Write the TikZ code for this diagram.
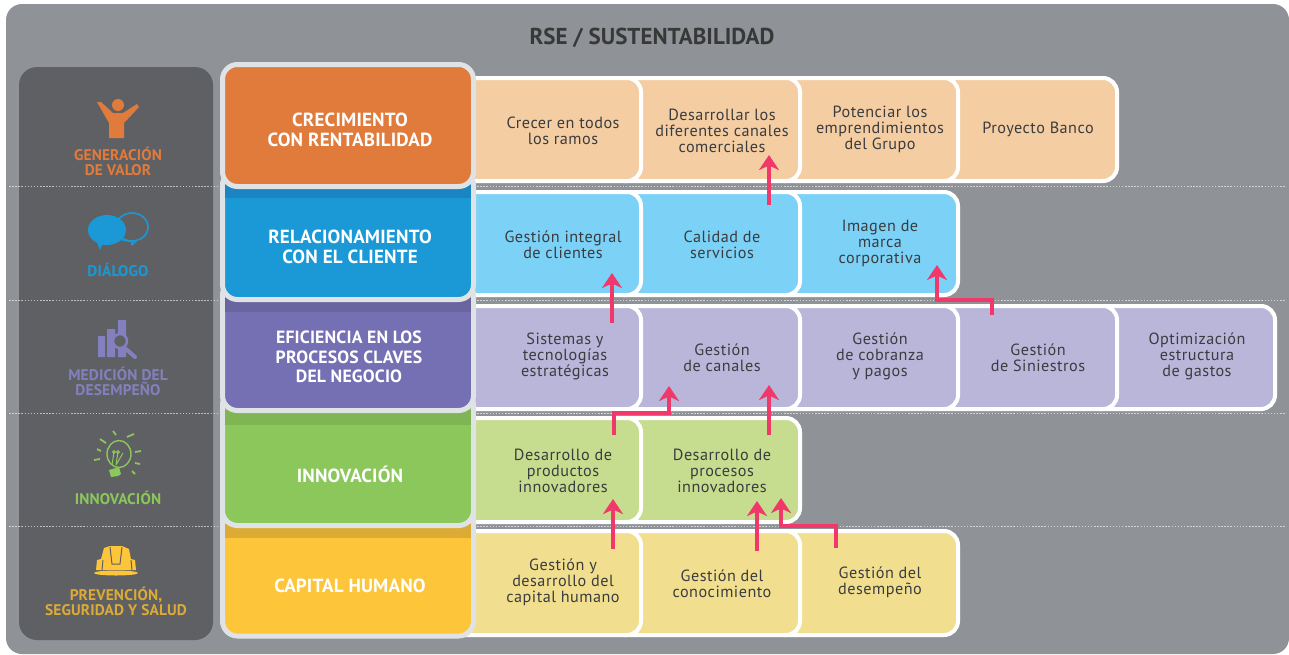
\documentclass[tikz,border=0pt]{standalone}
\usepackage{fontspec}
\setmainfont{PT Sans}
\newfontfamily\bodyf[LetterSpace=3]{PT Sans}
\newfontfamily\headf[LetterSpace=1]{PT Sans}
\usetikzlibrary{arrows.meta}
\definecolor{bgray}{HTML}{8F9397}
\definecolor{panel}{HTML}{5F6063}
\definecolor{rim}{HTML}{DFE3E5}
\definecolor{txt}{HTML}{3A3C3F}
\definecolor{pink}{HTML}{F0386B}
\definecolor{cOr}{HTML}{E07B3C}\definecolor{cBl}{HTML}{1A99D6}\definecolor{cPu}{HTML}{7570B3}
\definecolor{cGr}{HTML}{8BC75A}\definecolor{cYe}{HTML}{FDC53A}
\definecolor{dBl}{HTML}{1A85C2}\definecolor{dPu}{HTML}{6A659F}\definecolor{dGr}{HTML}{7FB552}\definecolor{dYe}{HTML}{DCAB36}
\definecolor{lOr}{HTML}{F4CDA2}\definecolor{lBl}{HTML}{7CD1F7}\definecolor{lPu}{HTML}{B9B6DA}
\definecolor{lGr}{HTML}{C6DC8F}\definecolor{lYe}{HTML}{F1DF8F}
\definecolor{tPu}{HTML}{8480BF}
\tikzset{
  cardbox/.style={draw=white,line width=4pt,rounded corners=14pt,inner sep=0pt,outer sep=0pt},
  cardtext/.style={font=\bodyf\fontsize{16.2}{16}\selectfont,text=txt,align=center,inner sep=0pt},
  mainbox/.style={draw=rim,line width=5pt,rounded corners=15pt,inner sep=0pt,outer sep=0pt,text=white,align=center,
    font=\headf\bfseries\fontsize{19}{19.5}\selectfont},
  pnl/.style={font=\headf\bfseries\fontsize{15.4}{15}\selectfont,align=center,inner sep=0pt},
  link/.style={draw=pink,line width=4.5pt,-{Stealth[length=15pt,width=20pt,inset=4.5pt]}},
  dots/.style={draw=white,line width=.7pt,dash pattern=on 1.5pt off 1.6pt,opacity=.6}
}
\newcommand{\crd}[7]{% name x1 y1 x2 y2 colour style
  \pgfmathsetmacro{\cxx}{(#2+#4)/2}\pgfmathsetmacro{\cyy}{(#3+#5)/2}
  \pgfmathsetmacro{\ww}{#4-#2}\pgfmathsetmacro{\hh}{#5-#3}
  \node[#7,fill=#6,minimum width=\ww pt,minimum height=\hh pt] (#1) at (\cxx,\cyy) {};}
\newcommand{\mbx}[7]{% name x1 y1 x2 y2 colour text
  \pgfmathsetmacro{\cxx}{(#2+#4)/2}\pgfmathsetmacro{\cyy}{(#3+#5)/2}
  \pgfmathsetmacro{\ww}{#4-#2}\pgfmathsetmacro{\hh}{#5-#3}
  \node[mainbox,fill=#6,minimum width=\ww pt,minimum height=\hh pt] (#1) at (\cxx,\cyy) {#7};}
\begin{document}
\begin{tikzpicture}[x=1pt,y=-1pt]
\useasboundingbox (0,0) rectangle (1289,654);
\fill[white] (0,0) rectangle (1289,654);
\fill[bgray,rounded corners=16pt] (6,4) rectangle (1289,654);
\node[font=\bfseries\fontsize{23}{26}\selectfont,text=black!78] (title) at (652,37.5) {RSE / SUSTENTABILIDAD};
% left panel
\fill[panel,rounded corners=18pt] (19,67) rectangle (213,640);
% dotted lines
\foreach \yy/\nm in {186.5/a,300/b,413/c,526/d}{
  \coordinate (dl\nm) at (9,\yy); \coordinate (dr\nm) at (1285,\yy);
  \draw[dots] (dl\nm) -- (dr\nm);
}
% row 1 cards (right to left)
\crd{c14}{930}{78}{1117}{181}{lOr}{cardbox}
\crd{c13}{770}{78}{958}{181}{lOr}{cardbox}
\crd{c12}{610}{78}{800}{181}{lOr}{cardbox}
\crd{c11}{450}{78}{641}{181}{lOr}{cardbox}
% row 2
\crd{c23}{770}{192}{958}{295}{lBl}{cardbox}
\crd{c22}{610}{192}{800}{295}{lBl}{cardbox}
\crd{c21}{450}{192}{641}{295}{lBl}{cardbox}
% row 3
\crd{c35}{1085}{306}{1275}{409}{lPu}{cardbox}
\crd{c34}{930}{306}{1117}{409}{lPu}{cardbox}
\crd{c33}{770}{306}{958}{409}{lPu}{cardbox}
\crd{c32}{610}{306}{800}{409}{lPu}{cardbox}
\crd{c31}{450}{306}{641}{409}{lPu}{cardbox}
% row 4
\crd{c42}{610}{418}{800}{522}{lGr}{cardbox}
\crd{c41}{450}{418}{641}{522}{lGr}{cardbox}
% row 5
\crd{c53}{770}{531}{958}{635}{lYe}{cardbox}
\crd{c52}{610}{531}{800}{635}{lYe}{cardbox}
\crd{c51}{450}{531}{641}{635}{lYe}{cardbox}
% card texts
\node[cardtext] (t11) at (563,131) {Crecer en todos\\los ramos};
\node[cardtext] (t12) at (722,131) {Desarrollar los\\diferentes canales\\comerciales};
\node[cardtext] (t13) at (880,129) {Potenciar los\\emprendimientos\\del Grupo};
\node[cardtext] (t14) at (1038,129) {Proyecto Banco};
\node[cardtext] (t21) at (563,245) {Gestión integral\\de clientes};
\node[cardtext] (t22) at (722,245) {Calidad de\\servicios};
\node[cardtext] (t23) at (880,243) {Imagen de\\marca\\corporativa};
\node[cardtext] (t31) at (565,356) {Sistemas y\\tecnologías\\estratégicas};
\node[cardtext] (t32) at (722,358) {Gestión\\de canales};
\node[cardtext] (t33) at (880,356) {Gestión\\de cobranza\\y pagos};
\node[cardtext] (t34) at (1038,358) {Gestión\\de Siniestros};
\node[cardtext] (t35) at (1197,356) {Optimización\\estructura\\de gastos};
\node[cardtext] (t41) at (563,471) {Desarrollo de\\productos\\innovadores};
\node[cardtext] (t42) at (722,471) {Desarrollo de\\procesos\\innovadores};
\node[cardtext] (t51) at (563,582) {Gestión y\\desarrollo del\\capital humano};
\node[cardtext] (t52) at (722,584) {Gestión del\\conocimiento};
\node[cardtext] (t53) at (880,582) {Gestión del\\desempeño};
% main boxes, bottom first
\mbx{m5}{222.5}{500}{473.5}{636}{cYe}{}
\fill[dYe] (225,524) rectangle (471,538);
\mbx{m4}{222.5}{390}{473.5}{525.5}{cGr}{}
\fill[dGr] (225,410) rectangle (471,425);
\mbx{m3}{222.5}{280}{473.5}{410.5}{cPu}{}
\fill[dPu] (225,298) rectangle (471,312);
\mbx{m2}{222.5}{170}{473.5}{299.5}{cBl}{}
\fill[dBl] (225,185) rectangle (471,198);
\mbx{m1}{222.5}{64.5}{473.5}{186.5}{cOr}{}
\node[mainbox,draw=none,fill=none] (l1) at (350,130) {CRECIMIENTO\\CON RENTABILIDAD};
\node[mainbox,draw=none,fill=none] (l2) at (350,247) {RELACIONAMIENTO\\CON EL CLIENTE};
\node[mainbox,draw=none,fill=none,font=\headf\bfseries\fontsize{17.7}{19.5}\selectfont] (l3) at (349,357) {EFICIENCIA EN LOS\\PROCESOS CLAVES\\DEL NEGOCIO};
\node[mainbox,draw=none,fill=none] (l4) at (350,474) {INNOVACIÓN};
\node[mainbox,draw=none,fill=none] (l5) at (350,586) {CAPITAL HUMANO};
% panel labels
\node[pnl,text=cOr] (p1) at (118,161) {GENERACIÓN\\DE VALOR};
\node[pnl,text=cBl] (p2) at (118,270) {DIÁLOGO};
\node[pnl,text=tPu] (p3) at (118,381) {MEDICIÓN DEL\\DESEMPEÑO};
\node[pnl,text=cGr] (p4) at (118,498) {INNOVACIÓN};
\node[pnl,text=dYe] (p5) at (116,601) {PREVENCIÓN,\\SEGURIDAD Y SALUD};
% icon person
\fill[cOr] (118,105) circle (6);
\fill[cOr] (97,102) -- (101,102) -- (113,113) -- (123,113) -- (137,104) -- (139,107) -- (124,123) -- (124,138) -- (109,138) -- (109,123) -- cycle;
% icon dialog
\draw[cBl,line width=1.6pt] (132,227) ellipse (16 and 14);
\fill[panel] (133,243) -- (134,246) -- (139,240) -- cycle;
\draw[cBl,line width=1.6pt,line join=round] (122,240) -- (132,241.5) -- (132,245) -- (137,240);
\fill[cBl] (107,230) ellipse (19 and 15);
\fill[cBl] (96,240) -- (100,250) -- (103,243) -- cycle;
% icon bars
\fill[tPu] (98,336) rectangle (105,357) (107,329) rectangle (115,357) (118,320) rectangle (126,357);
\draw[tPu,line width=2.5pt,fill=panel] (120,341) circle (7);
\draw[tPu,line width=4pt,line cap=round] (126,349) -- (135,357);
% icon bulb
\draw[cGr,line width=1.4pt] (119,454) circle [x radius=12,y radius=13.5];
\draw[cGr,line width=1pt] (112,465) -- (114,452) (116,465) -- (118,452) (116,465) -- (123,453) (114,452) circle (1.5) (118,452) circle (1.5);
\fill[cGr] (109,470) -- (119,467) -- (121,474) -- (118,476) -- (111,477) -- cycle;
\draw[cGr,line width=1.8pt]
  (94,460) -- (100,459) (97,449) -- (101,451) (100,439) -- (106,443)
  (113,431) -- (116,435) (127,437) -- (134,434) (135,452) -- (141,451)
  (135,463) -- (140,464) (132,471) -- (135,474);
% icon hat
\fill[cYe] (96,570) -- (97,560) -- (101,559) -- (104,548) -- (110,546) -- (122,546) -- (129,549) -- (131,559) -- (135,560) -- (136,570) -- cycle;
\draw[panel,line width=1pt] (110,547) -- (112,564) -- (120,564) -- (122,547) (103,560) -- (102,570) (131,560) -- (132,570);
\fill[cYe] (116,573) ellipse (22 and 2.5);
% link coordinates
\coordinate (s1) at (769,205); \coordinate (e1) at (769,155);
\coordinate (s2) at (612,323); \coordinate (e2) at (612,273);
\coordinate (s3) at (614,435); \coordinate (b3a) at (614,413); \coordinate (b3b) at (669,413); \coordinate (e3) at (669,386);
\coordinate (s4) at (769,435); \coordinate (e4) at (769,385);
\coordinate (s5) at (613,549); \coordinate (e5) at (613,499);
\coordinate (s6) at (757,551); \coordinate (e6) at (757,501);
\coordinate (s7) at (836,548); \coordinate (b7a) at (836,526); \coordinate (b7b) at (781,526); \coordinate (e7) at (781,498);
\coordinate (s8) at (992,315); \coordinate (b8a) at (992,300); \coordinate (b8b) at (937,300); \coordinate (e8) at (937,265);
\draw[link] (s1) -- (e1);
\draw[link] (s2) -- (e2);
\draw[link] (s3) -- (b3a) -- (b3b) -- (e3);
\draw[link] (s4) -- (e4);
\draw[link] (s5) -- (e5);
\draw[link] (s6) -- (e6);
\draw[link] (s7) -- (b7a) -- (b7b) -- (e7);
\draw[link] (s8) -- (b8a) -- (b8b) -- (e8);
\end{tikzpicture}
\end{document}
